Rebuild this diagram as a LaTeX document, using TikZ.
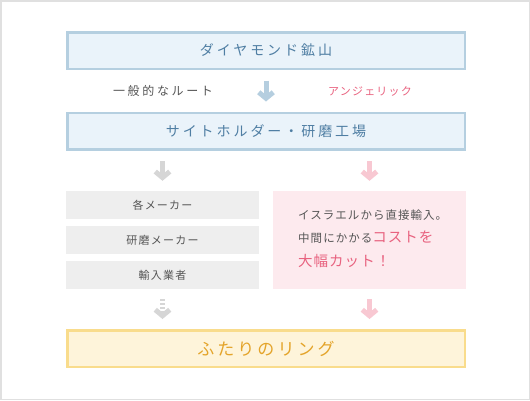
\documentclass[tikz,border=0pt]{standalone}
\usepackage{fontspec}
\newfontfamily\jpfont{Noto Sans CJK JP}
\usetikzlibrary{arrows.meta}

\definecolor{framegray}{HTML}{E0E0E0}
\definecolor{bluefill}{HTML}{EAF3FA}
\definecolor{bluedge}{HTML}{B5CFE0}
\definecolor{bluetext}{HTML}{4F7EA3}
\definecolor{bluearrow}{HTML}{B5CEDF}
\definecolor{grayfill}{HTML}{EEEEEE}
\definecolor{grayarrow}{HTML}{D6D6D6}
\definecolor{graytext}{HTML}{555555}
\definecolor{pinkfill}{HTML}{FDEAEE}
\definecolor{pinkarrow}{HTML}{F8C8D2}
\definecolor{pinktext}{HTML}{E8627F}
\definecolor{goldfill}{HTML}{FEF4DA}
\definecolor{goldedge}{HTML}{F9DC8C}
\definecolor{goldtext}{HTML}{E4A42A}

\begin{document}
\begin{tikzpicture}[x=1pt, y=-1pt,
	widebox/.style={line width=2.5pt, minimum width=397.5pt, minimum height=36.5pt, inner sep=0pt},
	minebox/.style={widebox, draw=bluedge, fill=bluefill, text=bluetext,
		font=\jpfont\fontsize{14}{16}\selectfont\addfontfeature{LetterSpace=21}},
	ringbox/.style={widebox, draw=goldedge, fill=goldfill, text=goldtext,
		font=\jpfont\fontsize{17}{19}\selectfont\addfontfeature{LetterSpace=18}},
	routebox/.style={fill=grayfill, text=graytext, minimum width=193pt, minimum height=28pt, inner sep=0pt,
		font=\jpfont\fontsize{11}{13}\selectfont\addfontfeature{LetterSpace=11}},
	blockarrow/.style={line width=5pt, shorten <=10.5pt, shorten >=10pt,
		-{Straight Barb[length=6pt, width=14.5pt]}},
	]
	% Cornice e area del disegno
	\useasboundingbox (0,0) rectangle (530,400);
	\draw[framegray, line width=1.5pt] (0.75,0.75) rectangle (529.25,399.25);
	
	% Riquadri principali
	\node[minebox] (mine) at (266,50.5) {ダイヤモンド鉱山};
	\node[minebox] (holder) at (266,131) {サイトホルダー・研磨工場};
	\node[ringbox] (ring) at (266,348.5) {ふたりのリング};
	
	% Etichette delle due strade
	\node[text=graytext, font=\jpfont\fontsize{12}{14}\selectfont\addfontfeature{LetterSpace=22}] (usual) at (163,91) {一般的なルート};
	\node[text=pinktext, font=\jpfont\fontsize{11}{13}\selectfont\addfontfeature{LetterSpace=11}] (angel) at (370,91) {アンジェリック};
	
	% Colonna grigia: intermediari
	\node[routebox] (maker) at (162.5,205) {各メーカー};
	\node[routebox] (polish) at (162.5,240) {研磨メーカー};
	\node[routebox] (importer) at (162.5,275) {輸入業者};
	
	% Colonna rosa: importazione diretta
	\node[fill=pinkfill, minimum width=193pt, minimum height=98pt, inner sep=0pt] (direct) at (369.5,240) {};
	\node[anchor=west, align=left, inner sep=0pt, text=graytext,
		font=\jpfont\fontsize{11.5}{23.5}\selectfont\addfontfeature{LetterSpace=9}] (directtext) at (298,238.5)
		{イスラエルから直接輸入。\\
		 中間にかかる{\color{pinktext}\fontsize{14.5}{23.5}\selectfont\addfontfeature{LetterSpace=7}コストを}\\
		 {\color{pinktext}\fontsize{14.5}{23.5}\selectfont\addfontfeature{LetterSpace=7}大幅カット！}};
	
	% Frecce
	\draw[blockarrow, bluearrow] (mine) -- (holder);
	\draw[blockarrow, grayarrow] (holder.south -| maker.north) -- (maker.north);
	\draw[blockarrow, pinkarrow] (holder.south -| direct.north) -- (direct.north);
	\draw[blockarrow, grayarrow, dash pattern=on 2pt off 2pt, shorten <=10pt] (importer.south) -- (ring.north -| importer.south);
	\draw[blockarrow, pinkarrow, shorten <=10pt] (direct.south) -- (ring.north -| direct.south);
\end{tikzpicture}
\end{document}
